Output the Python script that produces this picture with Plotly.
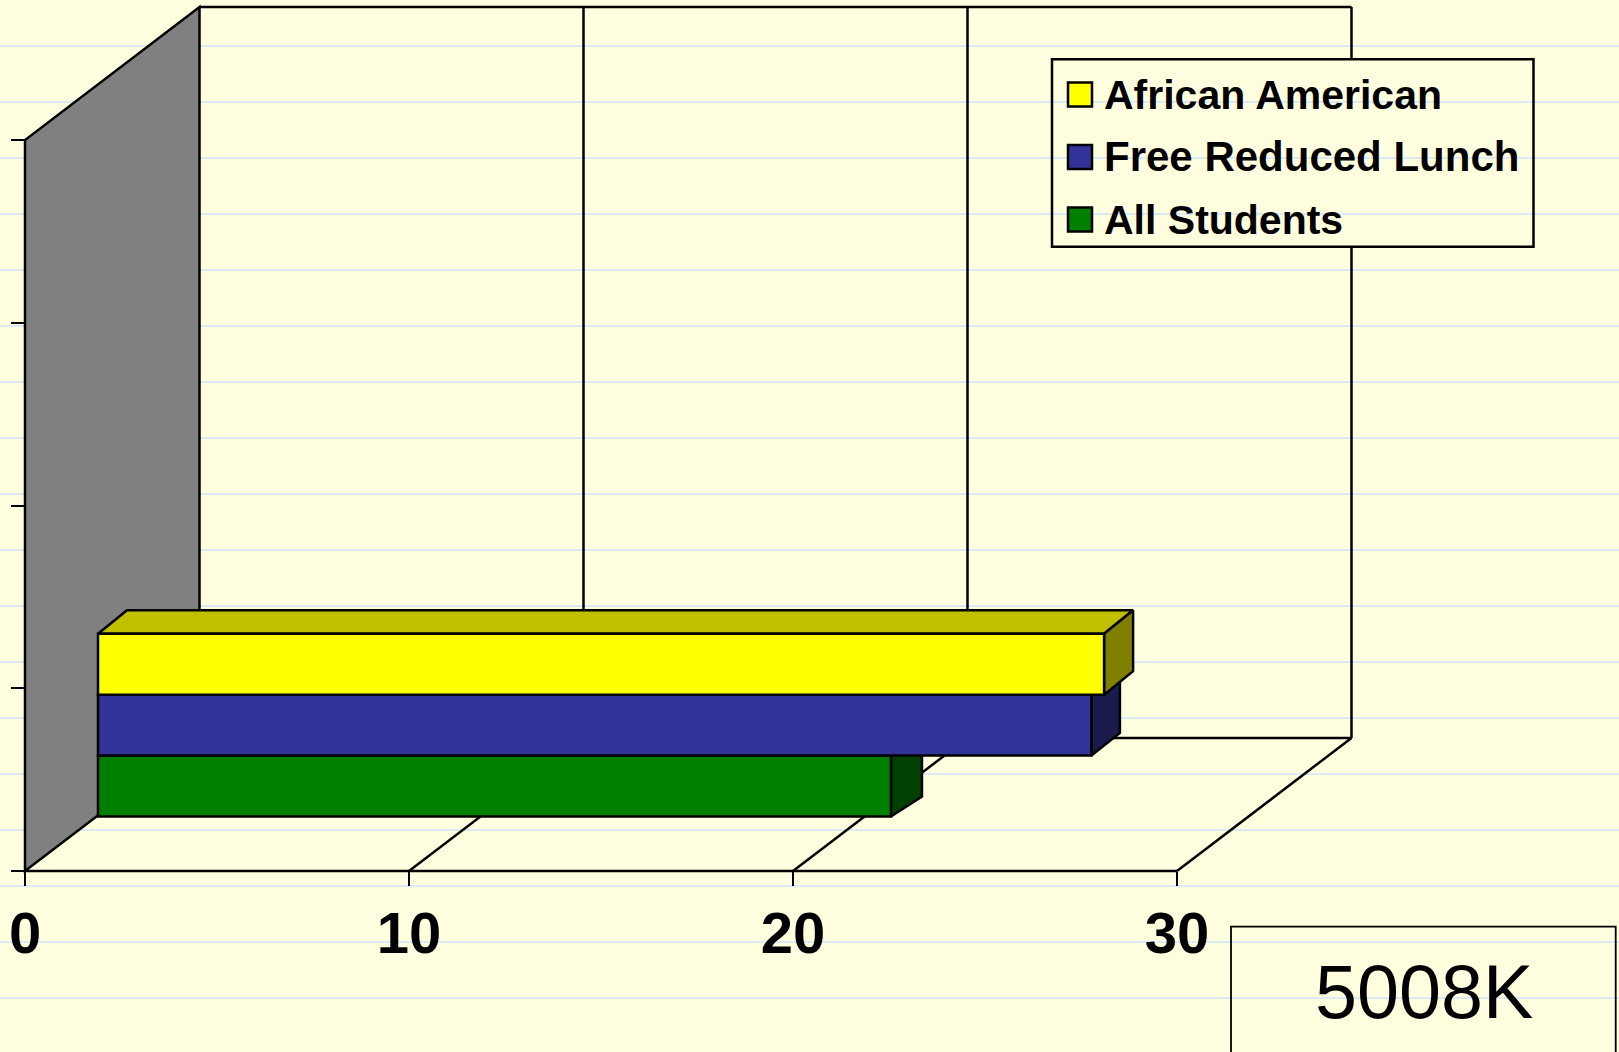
import plotly.graph_objects as go

# ---- data ----
series_names = ["All Students", "Free Reduced Lunch", "African American"]
series_values = [20.65, 25.87, 26.2]
value_ticks = [0, 10, 20, 30]
category_ticks = [0, 1, 2, 3, 4]
box_label = "5008K"
legend_order = ["African American", "Free Reduced Lunch", "All Students"]

# ---- style ----
W, H = 1619, 1052
BG = "#FFFFDF"
RULE = "#CCE5FA"
FRONT = {"All Students": "#008000", "Free Reduced Lunch": "#333399", "African American": "#FFFF00"}
TOP = {"All Students": "#006000", "Free Reduced Lunch": "#26266F", "African American": "#C0C000"}
SIDE = {"All Students": "#004000", "Free Reduced Lunch": "#1A1A4D", "African American": "#808000"}
BAR_DEPTH = {"All Students": (31, 20), "Free Reduced Lunch": (28.5, 22.7), "African American": (29, 23.5)}
LEGEND_FONT = {"All Students": 41, "Free Reduced Lunch": 42, "African American": 41}
LEGEND_X = {"All Students": 1102, "Free Reduced Lunch": 1102, "African American": 1102}
FONT = "Liberation Sans"

# pixel geometry of the pseudo-3D frame
X0_PX, Y0_PX = 25.0, 871.0      # value 0 / category 0 on the front edge
UX, UY = 38.4, 182.75           # px per value unit, px per category unit
WALL_DX, WALL_DY = 174.5, 133.0  # floor depth
BAR_DX, BAR_DY = 73.0, 54.5      # front face of the bars relative to the front edge

x_range = [-X0_PX / UX, (W - X0_PX) / UX]
y_range = [-(H - Y0_PX) / UY, Y0_PX / UY]
wx, wy = WALL_DX / UX, WALL_DY / UY
bx, by = BAR_DX / UX, BAR_DY / UY


def px(p):
    return p / W


def py(p):
    return 1 - p / H


shapes = []
# notebook rules
for k in range(18):
    y = 46 + 56 * k
    shapes.append(dict(type="line", xref="paper", yref="paper", x0=0, x1=1, y0=py(y), y1=py(y),
                       line=dict(color=RULE, width=1.6), layer="below"))

LINE = dict(color="black", width=2.5)
top_cat, max_v = category_ticks[-1], value_ticks[-1]


def seg(x0, y0, x1, y1):
    shapes.append(dict(type="line", xref="x", yref="y", x0=x0, y0=y0, x1=x1, y1=y1, line=LINE, layer="below"))


# grey side wall
shapes.append(dict(type="path", xref="x", yref="y", layer="below", fillcolor="#808080", line=LINE,
                   path=f"M0,0 L0,{top_cat} L{wx},{top_cat + wy} L{wx},{wy} Z"))
# back wall grid and floor
for v in value_ticks[1:-1]:
    seg(v + wx, wy, v + wx, top_cat + wy)
for v in value_ticks[1:]:
    seg(v, 0, v + wx, wy)
seg(0, 0, max_v, 0)
seg(wx, wy, max_v + wx, wy)
seg(wx, top_cat + wy, max_v + wx, top_cat + wy)
# right edge of back wall, interrupted by the legend box
seg(max_v + wx, wy, max_v + wx, (Y0_PX - 247) / UY)
seg(max_v + wx, (Y0_PX - 59) / UY, max_v + wx, top_cat + wy)

# legend box + 5008K box
BOX = dict(color="black", width=2.5)
shapes.append(dict(type="rect", xref="paper", yref="paper", x0=px(1052), x1=px(1533.5),
                   y0=py(59.3), y1=py(246.7), line=BOX))
shapes.append(dict(type="rect", xref="paper", yref="paper", x0=px(1231), x1=px(1615.7),
                   y0=py(926.7), y1=py(1070), line=dict(color="black", width=1.8)))

annotations = []
for name, sy in zip(legend_order, [94.5, 157, 219.5]):
    shapes.append(dict(type="rect", xref="paper", yref="paper", x0=px(1068), x1=px(1092),
                       y0=py(sy - 12), y1=py(sy + 12), fillcolor=FRONT[name],
                       line=dict(color="black", width=2.5)))
    annotations.append(dict(xref="paper", yref="paper", x=px(LEGEND_X[name]), y=py(sy), xanchor="left",
                            yanchor="middle", text=name, showarrow=False,
                            font=dict(family=FONT, size=LEGEND_FONT[name], color="black", weight=700)))
annotations.append(dict(xref="paper", yref="paper", x=px(1424), y=py(992), xanchor="center", yanchor="middle",
                        text=box_label, showarrow=False, font=dict(family=FONT, size=75.5, color="black")))

fig = go.Figure()

# top and end faces of the bars, back to front
band = 1 / len(series_names)
for i, (name, v) in enumerate(zip(series_names, series_values)):
    dx, dy = BAR_DEPTH[name]
    dx, dy = dx / UX, dy / UY
    low, high = by + i * band, by + (i + 1) * band
    left, right = bx, bx + v
    fig.add_trace(go.Scatter(x=[left, right, right + dx, left + dx, left],
                             y=[high, high, high + dy, high + dy, high],
                             mode="lines", fill="toself", fillcolor=TOP[name], line=LINE,
                             hoverinfo="skip", showlegend=False))
    fig.add_trace(go.Scatter(x=[right, right + dx, right + dx, right, right],
                             y=[low, low + dy, high + dy, high, low],
                             mode="lines", fill="toself", fillcolor=SIDE[name], line=LINE,
                             hoverinfo="skip", showlegend=False))

# front faces: true bars on an overlaid copy of the axes, so that they sit above the end faces
for i, (name, v) in enumerate(zip(series_names, series_values)):
    fig.add_trace(go.Bar(x=[v], base=[bx], y=[by + (i + 0.5) * band], width=[band], orientation="h",
                         name=name, marker=dict(color=FRONT[name], line=dict(color="black", width=2.5)),
                         xaxis="x2", yaxis="y2", showlegend=False))

fig.update_layout(
    width=W, height=H, margin=dict(l=0, r=0, t=0, b=0),
    paper_bgcolor=BG, plot_bgcolor="rgba(0,0,0,0)",
    barmode="overlay", showlegend=False,
    shapes=shapes, annotations=annotations,
    xaxis=dict(domain=[0, 1], range=x_range, anchor="free", position=1 - Y0_PX / H,
               tickmode="array", tickvals=value_ticks, ticks="outside", ticklen=14, tickwidth=2.2,
               tickcolor="black", showgrid=False, zeroline=False, showline=False,
               ticklabelstandoff=-3,
               tickfont=dict(family=FONT, size=58, color="black", weight=700)),
    yaxis=dict(domain=[0, 1], range=y_range, anchor="free", position=X0_PX / W,
               tickmode="array", tickvals=category_ticks, ticks="outside", ticklen=14, tickwidth=2.2,
               tickcolor="black", showticklabels=False, showgrid=False, zeroline=False, showline=False),
    xaxis2=dict(domain=[0, 1], range=x_range, overlaying="x", anchor="y2", visible=False),
    yaxis2=dict(domain=[0, 1], range=y_range, overlaying="y", anchor="x2", visible=False),
)

fig.write_html("out.html", config={"displayModeBar": False},
               post_script="document.body.style.margin='0';document.documentElement.style.overflow='hidden';")
